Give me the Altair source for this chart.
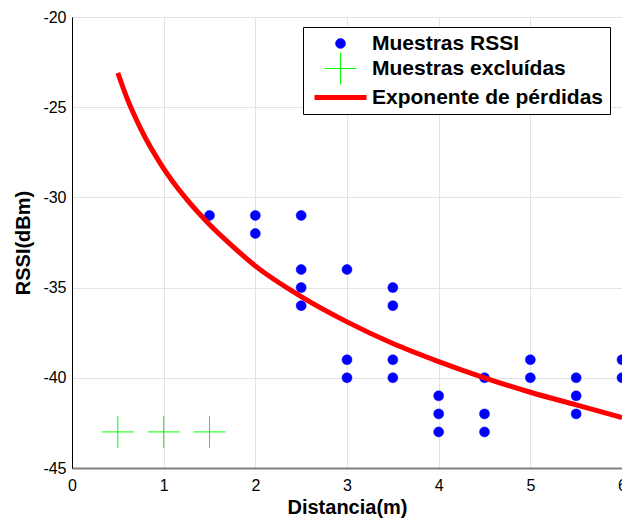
import altair as alt
import pandas as pd

# RSSI samples (distance in metres, RSSI in dBm)
rssi_dist = [1.5, 2, 2, 2.5, 2.5, 2.5, 2.5, 3, 3, 3, 3.5, 3.5, 3.5, 3.5,
             4, 4, 4, 4.5, 4.5, 4.5, 5, 5, 5.5, 5.5, 5.5, 6, 6]
rssi_dbm = [-31, -31, -32, -31, -34, -35, -36, -34, -39, -40, -35, -36, -39, -40,
            -41, -42, -43, -40, -42, -43, -39, -40, -40, -41, -42, -39, -40]

# Samples left out of the fit
excl_dist = [0.5, 1, 1.5]
excl_dbm = [-43, -43, -43]

# Fitted path-loss exponent curve
fit_dist = [0.5, 0.6, 0.75, 1.0, 1.25, 1.5, 1.75, 2.0, 2.5, 3.0, 3.5, 4.0, 4.5, 5.0, 5.5, 6.0]
fit_dbm = [-23.1, -24.5, -26.2, -28.4, -30.1, -31.5, -32.7, -33.8, -35.5, -36.9,
           -38.1, -39.1, -40.0, -40.8, -41.5, -42.2]

series = ["Muestras RSSI", "Muestras excluídas", "Exponente de pérdidas"]
colors = ["#0000ff", "#00ff00", "#ff0000"]

df_rssi = pd.DataFrame({"d": rssi_dist, "rssi": rssi_dbm, "serie": series[0]})
df_excl = pd.DataFrame({"d": excl_dist, "rssi": excl_dbm, "serie": series[1]})
df_fit = pd.DataFrame({"d": fit_dist, "rssi": fit_dbm, "serie": series[2]})

FONT = "Liberation Sans"
SYM = 100                                  # common symbol size (area units)
CROSS = "M-3.2,0H3.2M0,-3.2V3.2"           # thin plus sign
DASH = "M-5.2,0H5.2"                       # line sample for the legend
shapes = ["circle", CROSS, DASH]
widths = [0.5, 1, 5]

x_enc = alt.X("d:Q", title="Distancia(m)",
              scale=alt.Scale(domain=[0, 6], nice=False),
              axis=alt.Axis(values=[0, 1, 2, 3, 4, 5, 6], domainColor="#808080",
                            domainWidth=2, labelPadding=9, titlePadding=4,
                            labelFlush=False))
y_enc = alt.Y("rssi:Q", title="RSSI(dBm)",
              scale=alt.Scale(domain=[-45, -20], nice=False),
              axis=alt.Axis(values=[-45, -40, -35, -30, -25, -20], domainColor="#000000",
                            labelPadding=6, titlePadding=9, labelExpr="'' + datum.value"))

legend = alt.Legend(
    orient="none", legendX=231, legendY=10, direction="vertical", title=None,
    labelFont=FONT, labelFontSize=21, labelFontWeight="bold", labelColor="black",
    labelLimit=400, strokeColor="black", fillColor="white", padding=6, cornerRadius=0,
    symbolSize=SYM, rowPadding=-4, symbolOffset=21, labelOffset=21,
    symbolOpacity=1,
)

fill_enc = alt.Fill("serie:N", scale=alt.Scale(domain=series, range=colors), legend=legend)
stroke_enc = alt.Stroke("serie:N", scale=alt.Scale(domain=series, range=colors), legend=legend)
shape_enc = alt.Shape("serie:N", scale=alt.Scale(domain=series, range=shapes), legend=legend)
width_enc = alt.StrokeWidth("serie:N", scale=alt.Scale(type="ordinal", domain=series, range=widths),
                            legend=legend)

rssi_pts = alt.Chart(df_rssi).mark_point(filled=True, size=SYM, opacity=1).encode(
    x=x_enc, y=y_enc, fill=fill_enc, stroke=stroke_enc, shape=shape_enc, strokeWidth=width_enc)

excl_pts = alt.Chart(df_excl).mark_point(filled=False, size=SYM, opacity=1).encode(
    x=x_enc, y=y_enc, fill=fill_enc, stroke=stroke_enc, shape=shape_enc, strokeWidth=width_enc)

fit_line = alt.Chart(df_fit).mark_line(interpolate="monotone").encode(
    x=x_enc, y=y_enc, stroke=stroke_enc, strokeWidth=width_enc)

chart = alt.layer(rssi_pts, excl_pts, fit_line).properties(
    width=550, height=451,
    background="white",
    autosize=alt.AutoSizeParams(type="none"),
    padding={"left": 72, "top": 17, "right": 0, "bottom": 56},
).configure_view(
    stroke="black", strokeWidth=1
).configure_axis(
    labelFont=FONT, labelFontSize=16, labelColor="black",
    titleFont=FONT, titleFontSize=20, titleFontWeight="bold", titleColor="black",
    grid=True, gridColor="#e3e3e3", gridWidth=1, ticks=False,
)

chart.save("out.html", embed_options={"renderer": "svg", "actions": False})
